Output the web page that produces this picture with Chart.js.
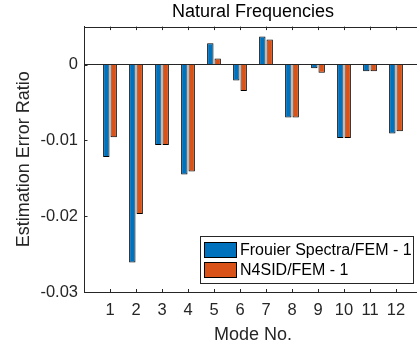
<!DOCTYPE html>
<html>
<head>
<meta charset="utf-8">
<script src="https://cdn.jsdelivr.net/npm/chart.js@4.4.0/dist/chart.umd.min.js"></script>
<style>
  html, body { margin: 0; padding: 0; background: #fff; overflow: hidden; }
  #wrap { width: 422px; height: 349px; }
</style>
</head>
<body>
<div id="wrap"><canvas id="chart"></canvas></div>
<script>
// Natural frequency estimation error, per mode
const modes = [1, 2, 3, 4, 5, 6, 7, 8, 9, 10, 11, 12];
const frouierErr = [-0.0122, -0.0261, -0.0106, -0.0145, 0.0028, -0.0021, 0.0037, -0.0070, -0.0005, -0.0097, -0.0009, -0.0091];
const n4sidErr   = [-0.0096, -0.0197, -0.0106, -0.0141, 0.0008, -0.0035, 0.0033, -0.0070, -0.0011, -0.0097, -0.0009, -0.0088];
const yTicks = [-0.03, -0.02, -0.01, 0];
const seriesLabels = ['Frouier Spectra/FEM - 1', 'N4SID/FEM - 1'];
const seriesColors = ['#0072BD', '#D95319'];

const FONT = "'Liberation Sans', Arial, Helvetica, sans-serif";
const AXIS = '#262626';

Chart.defaults.font.family = FONT;
Chart.defaults.color = AXIS;

// top border + inward tick marks (matlab style)
const axesBox = {
  id: 'axesBox',
  afterDatasetsDraw(chart) {
    const { ctx, chartArea: a, scales: { x, y } } = chart;
    ctx.save();
    ctx.strokeStyle = AXIS;
    ctx.lineWidth = 1;
    ctx.beginPath();
    ctx.moveTo(a.left, Math.round(a.top) + 0.5);
    ctx.lineTo(a.right, Math.round(a.top) + 0.5);
    modes.forEach(m => {
      const px = Math.round(x.getPixelForValue(m)) + 0.5;
      ctx.moveTo(px, a.bottom); ctx.lineTo(px, a.bottom - 3);
      ctx.moveTo(px, a.top); ctx.lineTo(px, a.top + 3.5);
    });
    yTicks.forEach(v => {
      const py = Math.round(y.getPixelForValue(v)) + 0.5;
      ctx.moveTo(a.left, py); ctx.lineTo(a.left + 3.5, py);
    });
    ctx.stroke();
    ctx.restore();
  }
};

// boxed legend in the lower right corner of the axes
const boxLegend = {
  id: 'boxLegend',
  afterDraw(chart) {
    const { ctx, chartArea: a } = chart;
    const sets = chart.data.datasets;
    ctx.save();
    ctx.font = '16px ' + FONT;
    const textW = Math.max(...sets.map(d => ctx.measureText(d.label).width));
    const w = Math.round(3 + 33 + 3 + textW + 2);
    const h = 47;
    const x0 = Math.round(a.right - 9.5 - w);
    const y0 = Math.round(a.bottom - 9 - h);
    ctx.fillStyle = '#fff';
    ctx.fillRect(x0, y0, w, h);
    ctx.strokeStyle = AXIS;
    ctx.lineWidth = 1;
    ctx.strokeRect(x0 + 0.5, y0 + 0.5, w, h);
    sets.forEach((d, i) => {
      const sy = y0 + 6 + i * 20;
      ctx.fillStyle = d.backgroundColor;
      ctx.fillRect(x0 + 4, sy, 33, 16);
      ctx.strokeStyle = '#000';
      ctx.strokeRect(x0 + 4.5, sy + 0.5, 32, 15);
      ctx.fillStyle = '#000';
      ctx.textBaseline = 'middle';
      ctx.fillText(d.label, x0 + 40, sy + 8.5);
    });
    ctx.restore();
  }
};

new Chart(document.getElementById('chart'), {
  type: 'bar',
  data: {
    datasets: [
      {
        label: seriesLabels[0],
        data: modes.map((m, i) => ({ x: m, y: frouierErr[i] })),
        backgroundColor: seriesColors[0],
        borderColor: '#000',
        borderWidth: 1
      },
      {
        label: seriesLabels[1],
        data: modes.map((m, i) => ({ x: m, y: n4sidErr[i] })),
        backgroundColor: seriesColors[1],
        borderColor: '#000',
        borderWidth: 1
      }
    ]
  },
  options: {
    responsive: true,
    maintainAspectRatio: false,
    animation: false,
    categoryPercentage: 0.566,
    barPercentage: 0.87,
    layout: { padding: 0 },
    plugins: {
      legend: { display: false },
      tooltip: { enabled: false },
      title: {
        display: true,
        text: 'Natural Frequencies',
        color: '#000',
        fullSize: false,
        font: { size: 18, weight: 'normal' },
        padding: { top: 1, bottom: 4 }
      }
    },
    scales: {
      x: {
        type: 'linear',
        min: 0,
        max: 13,
        offset: false,
        grid: { display: false, drawTicks: false },
        border: { display: true, color: AXIS, width: 1 },
        afterBuildTicks: s => { s.ticks = modes.map(v => ({ value: v })); },
        afterFit: s => { s.height = 57; },
        ticks: { autoSkip: false, maxRotation: 0, padding: 9, font: { size: 16.5 }, color: AXIS },
        title: { display: true, text: 'Mode No.', font: { size: 18 }, color: AXIS, padding: { top: 0, bottom: 3 } }
      },
      y: {
        min: -0.03,
        max: 0.005,
        grid: {
          drawTicks: false,
          color: c => (c.tick && c.tick.value === 0 ? AXIS : 'transparent')
        },
        border: { display: true, color: AXIS, width: 1 },
        afterBuildTicks: s => { s.ticks = yTicks.map(v => ({ value: v })); },
        afterFit: s => { s.width = 84; },
        ticks: {
          padding: 6,
          font: { size: 16.5 },
          color: AXIS,
          callback: v => (v === 0 ? '0' : v.toFixed(2))
        },
        title: { display: true, text: 'Estimation Error Ratio', font: { size: 18 }, color: AXIS, padding: { top: 13, bottom: 0 } }
      }
    }
  },
  plugins: [axesBox, boxLegend]
});
</script>
</body>
</html>
